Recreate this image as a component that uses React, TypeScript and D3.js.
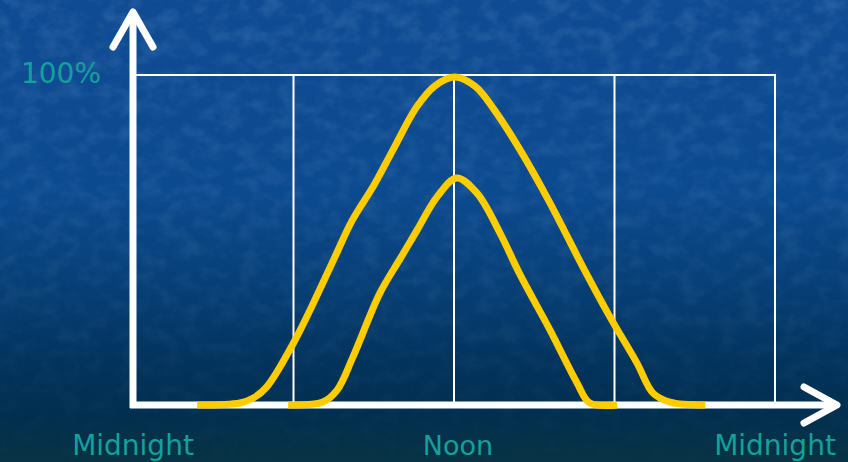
import React from "react";
import * as d3 from "d3";

const W = 848;
const H = 462;

// hours of the day (0 = midnight, 12 = noon, 24 = midnight), value in %
const outerHours = [2.4, 4.0, 4.5, 5.0, 6.0, 6.75, 7.5, 8.2, 9.0, 9.72, 10.62, 11.3, 12.04, 12.8, 13.5, 14.47, 15.59, 16.82, 17.83, 18.84, 19.44, 20.07, 21.4];
const outerValues = [0, 0.6, 2.1, 5.5, 18.8, 31.0, 44.0, 56.0, 66.5, 77.3, 90.5, 96.8, 99.4, 96.5, 89.5, 77.3, 61.2, 41.8, 26.7, 12.7, 3.6, 0.9, 0];

const innerHours = [5.8, 7.1, 7.63, 8.22, 9.23, 10.0, 10.62, 11.36, 12.1, 12.86, 13.72, 14.47, 15.59, 16.6, 17.08, 18.1];
const innerValues = [0, 0.9, 4.5, 14.5, 33.9, 44.5, 53.0, 63.0, 68.8, 64.2, 52.1, 39.5, 22.7, 6.7, 0.6, 0];

const gridHours = [6, 12, 18];
const xLabels = [
  { h: 0, text: "Midnight" },
  { h: 12, text: "Noon" },
  { h: 24, text: "Midnight" },
];
const yLabel = "100%";

export default function App() {
  const x = d3.scaleLinear().domain([0, 24]).range([133, 775]);
  const y = d3.scaleLinear().domain([0, 100]).range([405, 75]);

  const line = d3
    .line<[number, number]>()
    .x((d) => x(d[0]))
    .y((d) => y(d[1]))
    .curve(d3.curveCatmullRom.alpha(0.5));

  const outer = outerHours.map((h, i) => [h, outerValues[i]] as [number, number]);
  const inner = innerHours.map((h, i) => [h, innerValues[i]] as [number, number]);

  const font = "'DejaVu Sans', Verdana, sans-serif";
  const teal = "#14a09c";

  return (
    <svg
      width={W}
      height={H}
      style={{ position: "fixed", left: 0, top: 0, display: "block" }}
    >
      <defs>
        <linearGradient id="bg" x1="0" y1="0" x2="0" y2="1">
          <stop offset="0" stopColor="#0f4b93" />
          <stop offset="0.42" stopColor="#0c4a8f" />
          <stop offset="0.62" stopColor="#073f75" />
          <stop offset="0.8" stopColor="#03325a" />
          <stop offset="0.9" stopColor="#022f4f" />
          <stop offset="1" stopColor="#083343" />
        </linearGradient>
        <filter id="tex" x="0" y="0" width="100%" height="100%">
          <feTurbulence type="fractalNoise" baseFrequency="0.05 0.07" numOctaves="3" seed="7" result="n" />
          <feColorMatrix
            in="n"
            type="matrix"
            values="0 0 0 0 0.4  0 0 0 0 0.6  0 0 0 0 0.9  0 0 0 1.4 -0.55"
          />
        </filter>
        <linearGradient id="fade" x1="0" y1="0" x2="0" y2="1">
          <stop offset="0" stopColor="#fff" stopOpacity="0.22" />
          <stop offset="0.6" stopColor="#fff" stopOpacity="0.12" />
          <stop offset="1" stopColor="#fff" stopOpacity="0.02" />
        </linearGradient>
        <mask id="fadeMask">
          <rect x={0} y={0} width={W} height={H} fill="url(#fade)" />
        </mask>
      </defs>

      <rect x={0} y={0} width={W} height={H} fill="url(#bg)" />
      <rect x={0} y={0} width={W} height={H} filter="url(#tex)" mask="url(#fadeMask)" />

      {/* grid box */}
      <rect
        x={x(0) + 2}
        y={y(100)}
        width={x(24) - x(0) - 2}
        height={y(0) - y(100)}
        fill="none"
        stroke="#ffffff"
        strokeWidth={2}
      />
      {gridHours.map((h) => (
        <line key={h} x1={x(h)} x2={x(h)} y1={y(100)} y2={y(0)} stroke="#ffffff" strokeWidth={2} />
      ))}

      {/* axes */}
      <line x1={x(0)} x2={x(0)} y1={y(0) + 3} y2={12} stroke="#fff" strokeWidth={7} />
      <polyline
        points={`${x(0) - 20},47 ${x(0)},12 ${x(0) + 20},47`}
        fill="none"
        stroke="#fff"
        strokeWidth={7}
        strokeLinecap="round"
        strokeLinejoin="round"
      />
      <line x1={x(0) - 3} x2={836} y1={y(0)} y2={y(0)} stroke="#fff" strokeWidth={7} />
      <polyline
        points={`804,${y(0) - 18} 837,${y(0)} 804,${y(0) + 18}`}
        fill="none"
        stroke="#fff"
        strokeWidth={7}
        strokeLinecap="round"
        strokeLinejoin="round"
      />

      {/* curves */}
      <path d={line(outer) || ""} fill="none" stroke="#ffcc00" strokeWidth={7} strokeLinejoin="round" />
      <path d={line(inner) || ""} fill="none" stroke="#ffcc00" strokeWidth={7} strokeLinejoin="round" />

      {/* labels */}
      <text x={101} y={83} textAnchor="end" fill={teal} fontFamily={font} fontSize={28}>
        {yLabel}
      </text>
      {xLabels.map((l, i) => (
        <text
          key={i}
          x={x(l.h) + (i === 1 ? 4 : 0)}
          y={455}
          textAnchor="middle"
          fill={teal}
          fontFamily={font}
          fontSize={i === 1 ? 27 : 28}
        >
          {l.text}
        </text>
      ))}
    </svg>
  );
}
